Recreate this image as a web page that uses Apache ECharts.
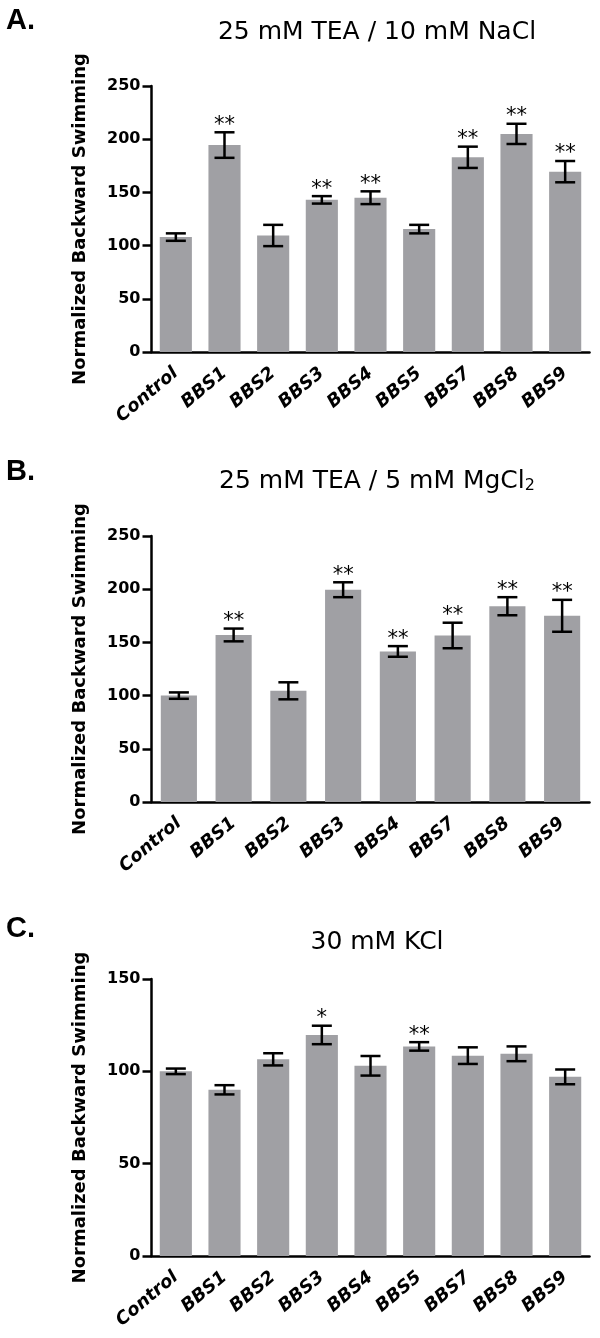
<!DOCTYPE html>
<html><head><meta charset="utf-8">
<script src="https://cdn.jsdelivr.net/npm/echarts@6/dist/echarts.min.js"></script>
<style>html,body{margin:0;padding:0;background:#fff}#c{width:600px;height:1338px}</style>
</head><body><div id="c"></div>
<script>
// ---- Data ----
const catsA = ['Control','BBS1','BBS2','BBS3','BBS4','BBS5','BBS7','BBS8','BBS9'];
const meanA = [108, 194.5, 109.5, 143, 145, 115.5, 183, 205, 169.5];
const errA  = [3.5, 12, 10, 3.5, 6, 4, 10, 9.5, 10];
const starsA = ['', '**', '', '**', '**', '', '**', '**', '**'];

const catsB = ['Control','BBS1','BBS2','BBS3','BBS4','BBS7','BBS8','BBS9'];
const meanB = [100, 157, 104.5, 199.5, 141.5, 156.5, 184, 175];
const errB  = [3, 6, 8, 7, 5, 12, 8.5, 15];
const starsB = ['', '**', '', '**', '**', '**', '**', '**'];

const catsC = ['Control','BBS1','BBS2','BBS3','BBS4','BBS5','BBS7','BBS8','BBS9'];
const meanC = [100, 90, 106.5, 119.7, 103, 113.5, 108.5, 109.5, 97];
const errC  = [1.5, 2.5, 3.3, 5, 5.3, 2.3, 4.5, 4, 4];
const starsC = ['', '', '', '*', '', '**', '', '', ''];

const yMaxA = 250, yMaxB = 250, yMaxC = 150, yStep = 50;
const yName = 'Normalized Backward Swimming';
const titles = ['25 mM TEA / 10 mM NaCl', '25 mM TEA / 5 mM MgCl', '30 mM KCl'];
const panelLetters = ['A.', 'B.', 'C.'];

// ---- Styling ----
const F = 'DejaVu Sans';
const BAR = '#a0a0a4';
const grids = [
  {left: 151.5, right: 10.5, top: 86, height: 266},
  {left: 151.5, right: 10.5, top: 536, height: 266},
  {left: 151.5, right: 10.5, top: 979, height: 277}
];

function xAx(i, cats) {
  return {
    type: 'category', gridIndex: i, data: cats,
    axisLine: {lineStyle: {color: '#000', width: 2.5}},
    axisTick: {alignWithLabel: true, length: 7, lineStyle: {color: '#000', width: 2.5}},
    axisLabel: {interval: 0, rotate: 40, margin: 19, color: '#000', fontFamily: F,
      fontWeight: 'bold', fontStyle: 'italic', fontSize: 18}
  };
}
function yAx(i, max) {
  return {
    type: 'value', gridIndex: i, min: 0, max: max, interval: yStep,
    name: yName, nameLocation: 'middle', nameGap: 62,
    nameTextStyle: {color: '#000', fontFamily: F, fontWeight: 'bold', fontSize: 18},
    splitLine: {show: false},
    axisLine: {show: true, lineStyle: {color: '#000', width: 2.5}},
    axisTick: {show: true, length: 9, lineStyle: {color: '#000', width: 2.5}},
    axisLabel: {margin: 11, color: '#000', fontFamily: F, fontWeight: 'bold', fontSize: 16}
  };
}
function barS(i, means) {
  return {type: 'bar', xAxisIndex: i, yAxisIndex: i, data: means, barWidth: '66%',
    itemStyle: {color: BAR}, silent: true, z: 2};
}
function errS(i, means, errs, stars) {
  const data = means.map((m, k) => [k, m - errs[k], m + errs[k]]);
  return {
    type: 'custom', xAxisIndex: i, yAxisIndex: i, data: data, z: 5, silent: true,
    encode: {x: 0, y: [1, 2]},
    renderItem: function (params, api) {
      const x = api.value(0);
      const pLo = api.coord([x, api.value(1)]);
      const pHi = api.coord([x, api.value(2)]);
      const hw = 10;
      const st = {stroke: '#000', lineWidth: 2.5};
      const ch = [
        {type: 'line', shape: {x1: pLo[0], y1: pLo[1], x2: pHi[0], y2: pHi[1]}, style: st},
        {type: 'line', shape: {x1: pLo[0] - hw, y1: pLo[1], x2: pLo[0] + hw, y2: pLo[1]}, style: st},
        {type: 'line', shape: {x1: pHi[0] - hw, y1: pHi[1], x2: pHi[0] + hw, y2: pHi[1]}, style: st}
      ];
      const s = stars[params.dataIndex];
      if (s) {
        ch.push({type: 'text', x: pHi[0], y: pHi[1] - 7,
          style: {text: s, fill: '#000', font: '21px "DejaVu Sans"', align: 'center', verticalAlign: 'middle'}});
      }
      return {type: 'group', children: ch};
    }
  };
}

const chart = echarts.init(document.getElementById('c'), null, {renderer: 'canvas'});
const TX = 377;
chart.setOption({
  animation: false,
  backgroundColor: '#fff',
  grid: grids,
  xAxis: [xAx(0, catsA), xAx(1, catsB), xAx(2, catsC)],
  yAxis: [yAx(0, yMaxA), yAx(1, yMaxB), yAx(2, yMaxC)],
  series: [
    barS(0, meanA), errS(0, meanA, errA, starsA),
    barS(1, meanB), errS(1, meanB, errB, starsB),
    barS(2, meanC), errS(2, meanC, errC, starsC)
  ],
  graphic: [
    {type: 'text', x: 6, y: 21, style: {text: panelLetters[0], font: 'bold 29px "Liberation Sans"', fill: '#000', verticalAlign: 'middle'}},
    {type: 'text', x: 6, y: 472, style: {text: panelLetters[1], font: 'bold 29px "Liberation Sans"', fill: '#000', verticalAlign: 'middle'}},
    {type: 'text', x: 6, y: 929, style: {text: panelLetters[2], font: 'bold 29px "Liberation Sans"', fill: '#000', verticalAlign: 'middle'}},
    {type: 'text', x: TX, y: 32, style: {text: titles[0], font: '25px "DejaVu Sans"', fill: '#000', align: 'center', verticalAlign: 'middle'}},
    {type: 'text', x: TX, y: 480, style: {
      text: '{n|' + titles[1] + '}{s|2}', align: 'center', verticalAlign: 'middle', fill: '#000',
      rich: {
        n: {fontSize: 25, fontFamily: F, lineHeight: 28, verticalAlign: 'bottom', fill: '#000'},
        s: {fontSize: 16, fontFamily: F, lineHeight: 12, verticalAlign: 'bottom', fill: '#000'}
      }}},
    {type: 'text', x: TX, y: 942, style: {text: titles[2], font: '25px "DejaVu Sans"', fill: '#000', align: 'center', verticalAlign: 'middle'}}
  ]
});
</script>
</body></html>
